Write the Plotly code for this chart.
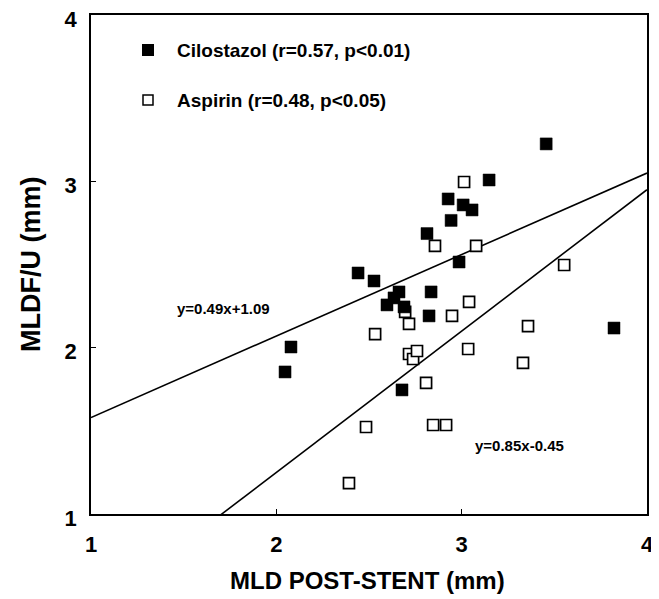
import plotly.graph_objects as go

# Cilostazol (filled squares)
cilo_x = [3.456, 3.148, 2.927, 3.008, 3.056, 2.943, 2.813, 2.986, 2.441, 2.527,
          2.662, 2.835, 2.597, 2.689, 2.824, 2.079, 2.047, 2.678, 3.822, 2.635]
cilo_y = [3.225, 3.008, 2.894, 2.858, 2.828, 2.765, 2.686, 2.515, 2.449, 2.401,
          2.335, 2.335, 2.257, 2.245, 2.191, 2.004, 1.854, 1.746, 2.118, 2.299]

# Aspirin (open squares)
asp_x = [3.013, 2.856, 3.078, 3.040, 2.695, 2.948, 2.716, 2.533, 2.716, 2.738,
         2.759, 3.035, 3.358, 3.331, 3.553, 2.808, 2.484, 2.846, 2.916, 2.392]
asp_y = [2.996, 2.612, 2.612, 2.275, 2.215, 2.191, 2.143, 2.082, 1.962, 1.932,
         1.980, 1.992, 2.130, 1.908, 2.497, 1.788, 1.523, 1.535, 1.535, 1.186]

# Regression lines
line_x = [1, 4]
cilo_slope, cilo_int = 0.49, 1.09
asp_slope, asp_int = 0.85, -0.45

x_ticks = [1, 2, 3, 4]
y_ticks = [1, 2, 3, 4]

legend_labels = ["Cilostazol (r=0.57, p<0.01)", "Aspirin (r=0.48, p<0.05)"]
eq_labels = ["y=0.49x+1.09", "y=0.85x-0.45"]
x_title = "MLD POST-STENT (mm)"
y_title = "MLDF/U (mm)"

SANS = "Liberation Sans, Arial, sans-serif"

W, H = 659, 599
OFF = 8  # page body margin
# desired plot area on the page: left 91, right 647, top 15, bottom 514
PL, PR, PT, PB = 91, 647, 15, 514
L = PL - OFF
T = PT - OFF
R = W - (PR - OFF)
B = H - (PB - OFF)


def px(xp, yp):
    """page pixel position -> data coordinates (for text/legend placement)"""
    return 1 + 3 * (xp - PL) / (PR - PL), 1 + 3 * (PB - yp) / (PB - PT)


def paper(xp, yp):
    return (xp - PL) / (PR - PL), (PB - yp) / (PB - PT)


fig = go.Figure()
fig.add_trace(go.Scatter(x=line_x, y=[cilo_slope * v + cilo_int for v in line_x],
                         mode="lines", line=dict(color="black", width=1.6),
                         showlegend=False, hoverinfo="skip"))
fig.add_trace(go.Scatter(x=line_x, y=[asp_slope * v + asp_int for v in line_x],
                         mode="lines", line=dict(color="black", width=1.6),
                         showlegend=False, hoverinfo="skip"))
fig.add_trace(go.Scatter(x=asp_x, y=asp_y, mode="markers", name="Aspirin",
                         marker=dict(symbol="square", size=11, color="white",
                                     line=dict(color="black", width=1.7)),
                         showlegend=False))
fig.add_trace(go.Scatter(x=cilo_x, y=cilo_y, mode="markers", name="Cilostazol",
                         marker=dict(symbol="square", size=12, color="black",
                                     line=dict(color="black", width=0.5)),
                         showlegend=False))

# legend markers
lx1, ly1 = px(148, 50)
lx2, ly2 = px(148, 100)
fig.add_trace(go.Scatter(x=[lx1], y=[ly1], mode="markers",
                         marker=dict(symbol="square", size=12, color="black"),
                         showlegend=False, hoverinfo="skip"))
fig.add_trace(go.Scatter(x=[lx2], y=[ly2], mode="markers",
                         marker=dict(symbol="square", size=10, color="white",
                                     line=dict(color="black", width=1.5)),
                         showlegend=False, hoverinfo="skip"))

axis_common = dict(
    range=[1, 4], ticks="inside", ticklen=5, tickwidth=1.2, tickcolor="black",
    showline=True, linecolor="black", linewidth=1.6, mirror=True,
    showgrid=False, zeroline=False, automargin=False,
    ticklabeloverflow="allow",
    tickfont=dict(family=SANS, size=22, color="black", weight="bold"),
)

fig.update_layout(
    width=W, height=H,
    margin=dict(l=L, r=R, t=T, b=B, autoexpand=False),
    paper_bgcolor="white", plot_bgcolor="white",
    showlegend=False,
    xaxis=dict(tickvals=x_ticks, ticktext=[str(v) for v in x_ticks],
               ticklabelstandoff=10, **axis_common),
    yaxis=dict(tickvals=y_ticks, ticktext=[str(v) for v in y_ticks],
               ticklabelstandoff=8, ticklabelshift=4, **axis_common),
)

ann = []
for (xp, yp), txt in zip([(175, 50), (175, 100)], legend_labels):
    ax, ay = px(xp, yp)
    ann.append(dict(x=ax, y=ay, xref="x", yref="y", xanchor="left", yanchor="middle",
                    text=txt, showarrow=False,
                    font=dict(family=SANS, size=19, color="black", weight="bold")))
for (xp, yp), txt in zip([(223, 308), (519, 445)], eq_labels):
    ax, ay = px(xp, yp)
    ann.append(dict(x=ax, y=ay, xref="x", yref="y", xanchor="center", yanchor="middle",
                    text=txt, showarrow=False,
                    font=dict(family=SANS, size=15, color="black", weight="bold")))
tx, ty = paper(367, 580)
ann.append(dict(x=tx, y=ty, xref="paper", yref="paper", xanchor="center", yanchor="middle",
                text=x_title, showarrow=False,
                font=dict(family=SANS, size=24, color="black", weight="bold")))
tx, ty = paper(31, 265)
ann.append(dict(x=tx, y=ty, xref="paper", yref="paper", xanchor="center", yanchor="middle",
                text=y_title, showarrow=False, textangle=-90,
                font=dict(family=SANS, size=27, color="black", weight="bold")))
fig.update_layout(annotations=ann)

fig.write_html("out.html")
